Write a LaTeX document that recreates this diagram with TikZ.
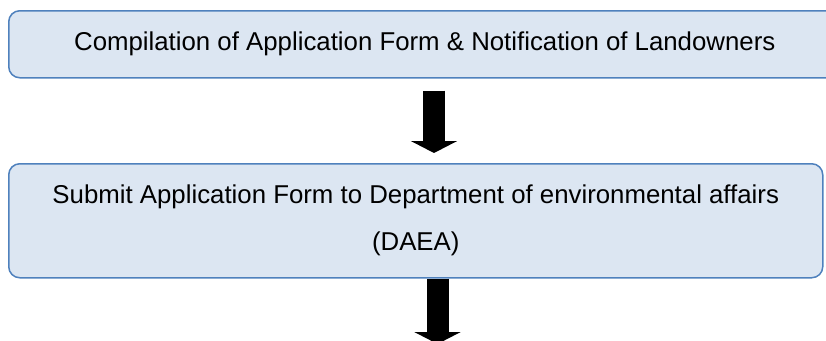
\documentclass[tikz,border=0pt]{standalone}
\usepackage{fontspec}
\setmainfont{Liberation Sans}
\usetikzlibrary{arrows.meta}
\definecolor{boxfill}{HTML}{DCE6F2}
\definecolor{boxline}{HTML}{4F81BD}

\begin{document}
\begin{tikzpicture}[x=1pt,y=-1pt]
	\tikzset{stagebox/.style={draw=boxline, fill=boxfill, line width=1.5pt, rounded corners=11pt, inner sep=0pt, align=center, anchor=north west, font=\fontsize{25.8}{47}\selectfont}}
	\tikzset{blockarrow/.style={black, line width=22pt, -{Triangle[width=46pt,length=12pt]}}}
	\useasboundingbox (0,0) rectangle (826,340);
	% application steps
	\node[stagebox, minimum width=832pt, minimum height=67pt] (compile) at (8,10) {Compilation of Application Form \& Notification of Landowners};
	\node[stagebox, minimum width=814pt, minimum height=114pt] (submit) at (8,163) {Submit Application Form to Department of environmental affairs\\(DAEA)};
	\coordinate (next) at (437.5,344);
	
	\draw[blockarrow, shorten <=12pt, shorten >=10pt] (compile.south -| 434,0) -- (submit.north -| 434,0);
	\draw[blockarrow] (submit.south -| next) -- (next);
\end{tikzpicture}
\end{document}
